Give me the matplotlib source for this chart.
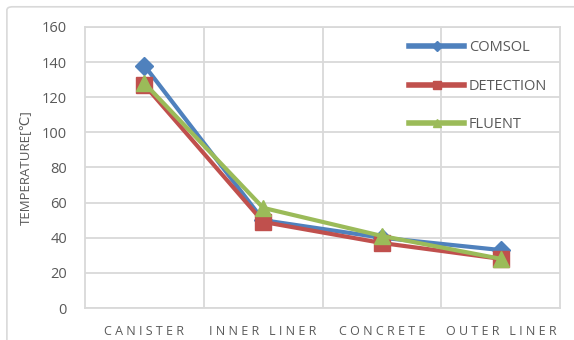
import matplotlib
matplotlib.use("Agg")
import matplotlib.pyplot as plt
from matplotlib.patches import FancyBboxPatch

# 측정 위치와 각 해석 결과 (온도, ℃)
positions = ["CANISTER", "INNER LINER", "CONCRETE", "OUTER LINER"]
comsol = [138, 50, 40, 33]
detection = [127, 49, 37, 28]
fluent = [128, 57, 41, 28]

plt.rcParams['font.family'] = ['Open Sans', 'DejaVu Sans']

fig = plt.figure(figsize=(5.74, 3.4), dpi=100)
ax = fig.add_axes([0.148, 0.094, 0.828, 0.827])

# 바깥 테두리
fig.patches.append(FancyBboxPatch((0.012, -0.02), 1.1, 1.0, boxstyle="round,pad=0,rounding_size=0.01",
                                  transform=fig.transFigure, fill=False,
                                  edgecolor="#d9d9d9", linewidth=1.2))

x = range(len(positions))
ax.plot(x, comsol, color="#4F81BD", lw=3, marker="D", ms=9, label="COMSOL", zorder=3)
ax.plot(x, detection, color="#C0504D", lw=3, marker="s", ms=11, label="DETECTION", zorder=4)
ax.plot(x, fluent, color="#9BBB59", lw=3, marker="^", ms=11, label="FLUENT", zorder=5)

ax.set_xlim(-0.5, len(positions) - 0.5)
ax.set_ylim(0, 160)
ax.set_yticks(range(0, 161, 20))

# 세로 격자는 구간 경계에
ax.set_xticks([i + 0.5 for i in range(len(positions) - 1)], minor=True)
ax.set_xticks(list(x))
ax.set_xticklabels([" ".join(p) for p in positions], color="#595959", fontsize=9)
ax.tick_params(axis="x", which="both", length=0, pad=12)
ax.tick_params(axis="y", length=0, pad=13, labelcolor="#595959", labelsize=10.5)
ax.grid(axis="y", color="#d9d9d9", lw=1.3)
ax.grid(axis="x", which="minor", color="#d9d9d9", lw=1.3)
ax.set_axisbelow(True)
for s in ax.spines.values():
    s.set_color("#d9d9d9")
    s.set_linewidth(1.3)

ax.set_ylabel("TEMPERATURE[℃]", color="#595959", fontsize=9.5, labelpad=7)

leg = ax.legend(loc="upper right", frameon=False, fontsize=10.5, handlelength=3.8,
                markerscale=0.55, labelspacing=1.62, handletextpad=0.3,
                borderaxespad=0.3, borderpad=0.6, labelcolor="#595959")
for h in leg.get_lines():
    h.set_linewidth(4)

fig.savefig("out.png", dpi=100)
